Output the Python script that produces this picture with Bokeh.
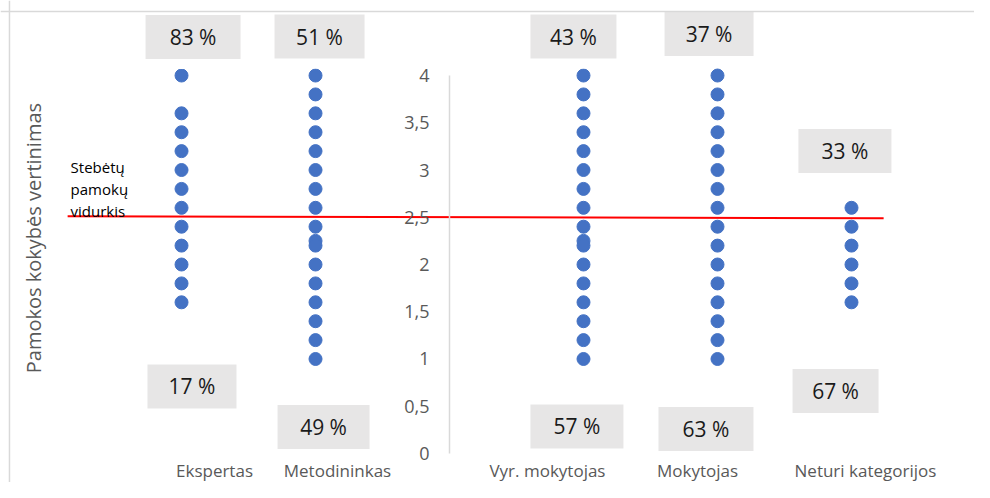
from bokeh.plotting import figure
from bokeh.models import (Range1d, LinearAxis, FixedTicker, CustomJSTickFormatter,
                          Span, ColumnDataSource)
from bokeh.core.properties import value
from bokeh.embed import file_html
from bokeh.resources import INLINE

# ---------------- data ----------------
categories = ["Ekspertas", "Metodininkas", "Vyr. mokytojas", "Mokytojas", "Neturi kategorijos"]
category_x = [1, 2, 4, 5, 6]

ekspertas = [4.0, 3.6, 3.4, 3.2, 3.0, 2.8, 2.6, 2.4, 2.2, 2.0, 1.8, 1.6]
metodininkas = [4.0, 3.8, 3.6, 3.4, 3.2, 3.0, 2.8, 2.6, 2.4, 2.25, 2.2, 2.0, 1.8, 1.6, 1.4, 1.2, 1.0]
vyr_mokytojas = [4.0, 3.8, 3.6, 3.4, 3.2, 3.0, 2.8, 2.6, 2.4, 2.25, 2.2, 2.0, 1.8, 1.6, 1.4, 1.2, 1.0]
mokytojas = [4.0, 3.8, 3.6, 3.4, 3.2, 3.0, 2.8, 2.6, 2.4, 2.2, 2.0, 1.8, 1.6, 1.4, 1.2, 1.0]
neturi = [2.6, 2.4, 2.2, 2.0, 1.8, 1.6]
series = [ekspertas, metodininkas, vyr_mokytojas, mokytojas, neturi]

pct_above = [83, 51, 43, 37, 33]
pct_below = [17, 49, 57, 63, 67]

average_value = 2.5
average_label = "Stebėtų\npamokų\nvidurkis"
y_ticks = [0, 0.5, 1, 1.5, 2, 2.5, 3, 3.5, 4]
y_title = "Pamokos kokybės vertinimas"

# ---------------- layout (annotation placement) ----------------
above_pos_x = [1.086, 2.030, 3.925, 4.937, 5.951]
above_pos_y = [4.407, 4.413, 4.413, 4.439, 3.201]
below_pos_x = [1.078, 2.060, 3.951, 4.914, 5.881]
below_pos_y = [0.709, 0.280, 0.286, 0.259, 0.661]
box_w_above = [95, 90, 86, 89, 93]
box_w_below = [89, 92, 93, 95, 86]
box_h = 44
cat_label_x = [1.246, 2.164, 3.731, 4.851, 6.104]
cat_label_y = -0.18

FONT = "Open Sans"
DOT = "#4472C4"
GRAY_TXT = "#595959"

p = figure(width=974, height=482, x_range=Range1d(-0.351, 6.918), y_range=Range1d(-0.307, 4.794),
           output_backend="svg", toolbar_location=None, x_axis_type=None, y_axis_type=None,
           min_border=0)
p.outline_line_color = None
p.background_fill_color = "white"
p.border_fill_color = "white"

# chart border (top & left only visible)
p.add_layout(Span(location=4.677, dimension="width", line_color="#d9d9d9", line_width=1.5))
p.add_layout(Span(location=-0.284, dimension="height", line_color="#d9d9d9", line_width=1.5))

# y axis crossing at x=3
yaxis = LinearAxis(fixed_location=3, bounds=(0, 4), ticker=FixedTicker(ticks=y_ticks),
                   formatter=CustomJSTickFormatter(code="return tick.toString().replace('.', ',');"),
                   axis_line_color="#d9d9d9", axis_line_width=1.5,
                   major_tick_line_color=None, minor_tick_line_color=None,
                   major_tick_out=0, major_tick_in=0, major_label_standoff=20,
                   major_label_text_color=GRAY_TXT, major_label_text_font_size="18px",
                   major_label_text_font=FONT)
p.add_layout(yaxis, "left")

# scatter points
xs, ys = [], []
for cx, vals in zip(category_x, series):
    xs += [cx] * len(vals)
    ys += vals
p.scatter(x=xs, y=ys, size=13, color=DOT, line_color=DOT)

# average line
p.line(x=[0.15, 6.24], y=[average_value + 0.01, average_value - 0.01], line_color="#FF0000", line_width=2)
p.text(x=[0.172], y=[2.804], text=[average_label], text_font=value(FONT), text_font_size="15px",
       text_color="black", text_baseline="middle", text_align="left", text_line_height=1.1)

# percentage boxes
src_a = ColumnDataSource(dict(x=above_pos_x, y=above_pos_y, w=[w + 10 for w in box_w_above],
                              t=[f"{v} %" for v in pct_above]))
src_b = ColumnDataSource(dict(x=below_pos_x, y=below_pos_y, w=[w + 10 for w in box_w_below],
                              t=[f"{v} %" for v in pct_below]))
for src in (src_a, src_b):
    p.rect(x="x", y="y", width="w", height=box_h + 10, width_units="screen", height_units="screen",
           source=src, fill_color="#e7e6e6", line_color="white", line_width=10)
    p.text(x="x", y="y", text="t", source=src, text_font=value(FONT), text_font_size="21px",
           text_color="#1a1a1a", text_align="center", text_baseline="middle")

# category labels
p.text(x=cat_label_x, y=[cat_label_y] * len(categories), text=categories, text_font=value(FONT),
       text_font_size="17px", text_color=GRAY_TXT, text_align="center", text_baseline="middle")

# y title
p.text(x=[-0.104], y=[2.280], text=[y_title], angle=1.5708, text_font=value(FONT),
       text_font_size="20px", text_color=GRAY_TXT, text_align="center", text_baseline="middle")

open("out.html", "w").write(file_html(p, INLINE))
